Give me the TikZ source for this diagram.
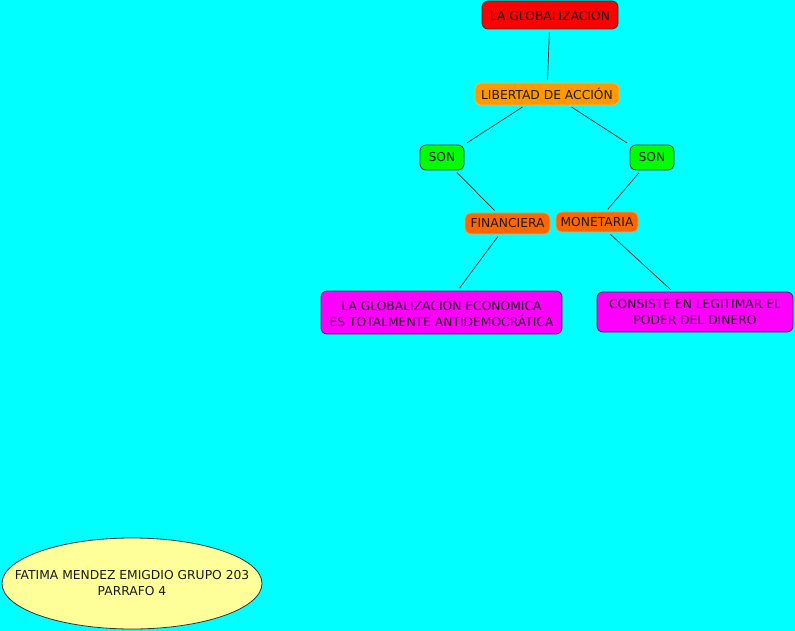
\documentclass[tikz,border=0pt]{standalone}
\usepackage{fontspec}
\setmainfont{DejaVu Sans}
\usetikzlibrary{shapes.geometric}
\definecolor{fondo}{HTML}{00FFFF}
\definecolor{rojo}{HTML}{FF0000}
\definecolor{naranja}{HTML}{FF9900}
\definecolor{naranjaborde}{HTML}{FFB84D}
\definecolor{verde}{HTML}{00FF00}
\definecolor{tipo}{HTML}{FF6600}
\definecolor{tipoborde}{HTML}{FF9940}
\definecolor{rosa}{HTML}{FF00FF}
\definecolor{crema}{HTML}{FFFF99}
\definecolor{tinta}{HTML}{1A1A1A}

\tikzset{
  concepto/.style={rectangle, rounded corners=6pt, align=center, inner sep=0pt,
    text=tinta, font=\fontsize{12.3}{16}\selectfont},
  titulo/.style={concepto, fill=rojo, draw=black!80, line width=0.8pt},
  enlace/.style={concepto, fill=naranja, draw=naranjaborde, line width=0.8pt},
  son/.style={concepto, fill=verde, draw=black!80, line width=0.8pt},
  clase/.style={concepto, fill=tipo, draw=tipoborde, line width=0.8pt},
  idea/.style={concepto, fill=rosa, draw=black!80, line width=0.8pt},
  autor/.style={ellipse, fill=crema, draw=black!80, line width=0.8pt, align=center,
    inner xsep=-32pt, inner ysep=0pt, text=tinta, font=\fontsize{12.3}{16}\selectfont},
  liga/.style={draw=black!85, line width=0.7pt, shorten >=3pt, shorten <=3pt}
}

\begin{document}
\begin{tikzpicture}[x=1pt, y=-1pt]
    % Fondo
    \useasboundingbox (0,0) rectangle (795,631);
    \fill[fondo] (0,0) rectangle (795,631);

    % Conceptos
    \node[titulo, minimum width=136pt, minimum height=28pt] (glob) at (550,15) {LA GLOBALIZACIÓN};
    \node[enlace, minimum width=144pt, minimum height=22pt] (libertad) at (547,94) {LIBERTAD DE ACCIÓN};
    \node[son, minimum width=44pt, minimum height=25pt] (sonizq) at (442,157.5) {SON};
    \node[son, minimum width=44pt, minimum height=25pt] (sonder) at (652,157.5) {SON};
    \node[clase, minimum width=85pt, minimum height=21pt] (financiera) at (507.5,223.5) {FINANCIERA};
    \node[clase, minimum width=82pt, minimum height=20pt] (monetaria) at (597,222) {MONETARIA};
    \node[idea, minimum width=241pt, minimum height=43pt] (antidem) at (441.5,312.5)
      {LA GLOBALIZACIÓN ECONÓMICA\\ES TOTALMENTE ANTIDEMOCRÁTICA};
    \node[idea, minimum width=196pt, minimum height=40pt] (poder) at (695,312)
      {CONSISTE EN LEGITIMAR EL\\PODER DEL DINERO};

    % Autor
    \node[autor, minimum width=260pt, minimum height=91pt] (firma) at (132,583.5)
      {FATIMA MENDEZ EMIGDIO GRUPO 203\\PARRAFO 4};

    % Lineas
    \draw[liga] (glob) -- (libertad);
    \draw[liga] (libertad.south) ++(-22,0) -- (sonizq.north east);
    \draw[liga] (libertad.south) ++(22,0) -- (sonder.north west);
    \draw[liga] (sonizq) -- (financiera);
    \draw[liga] (sonder) -- (monetaria);
    \draw[liga] (financiera) -- (antidem);
    \draw[liga] (monetaria) -- (poder);
\end{tikzpicture}
\end{document}
